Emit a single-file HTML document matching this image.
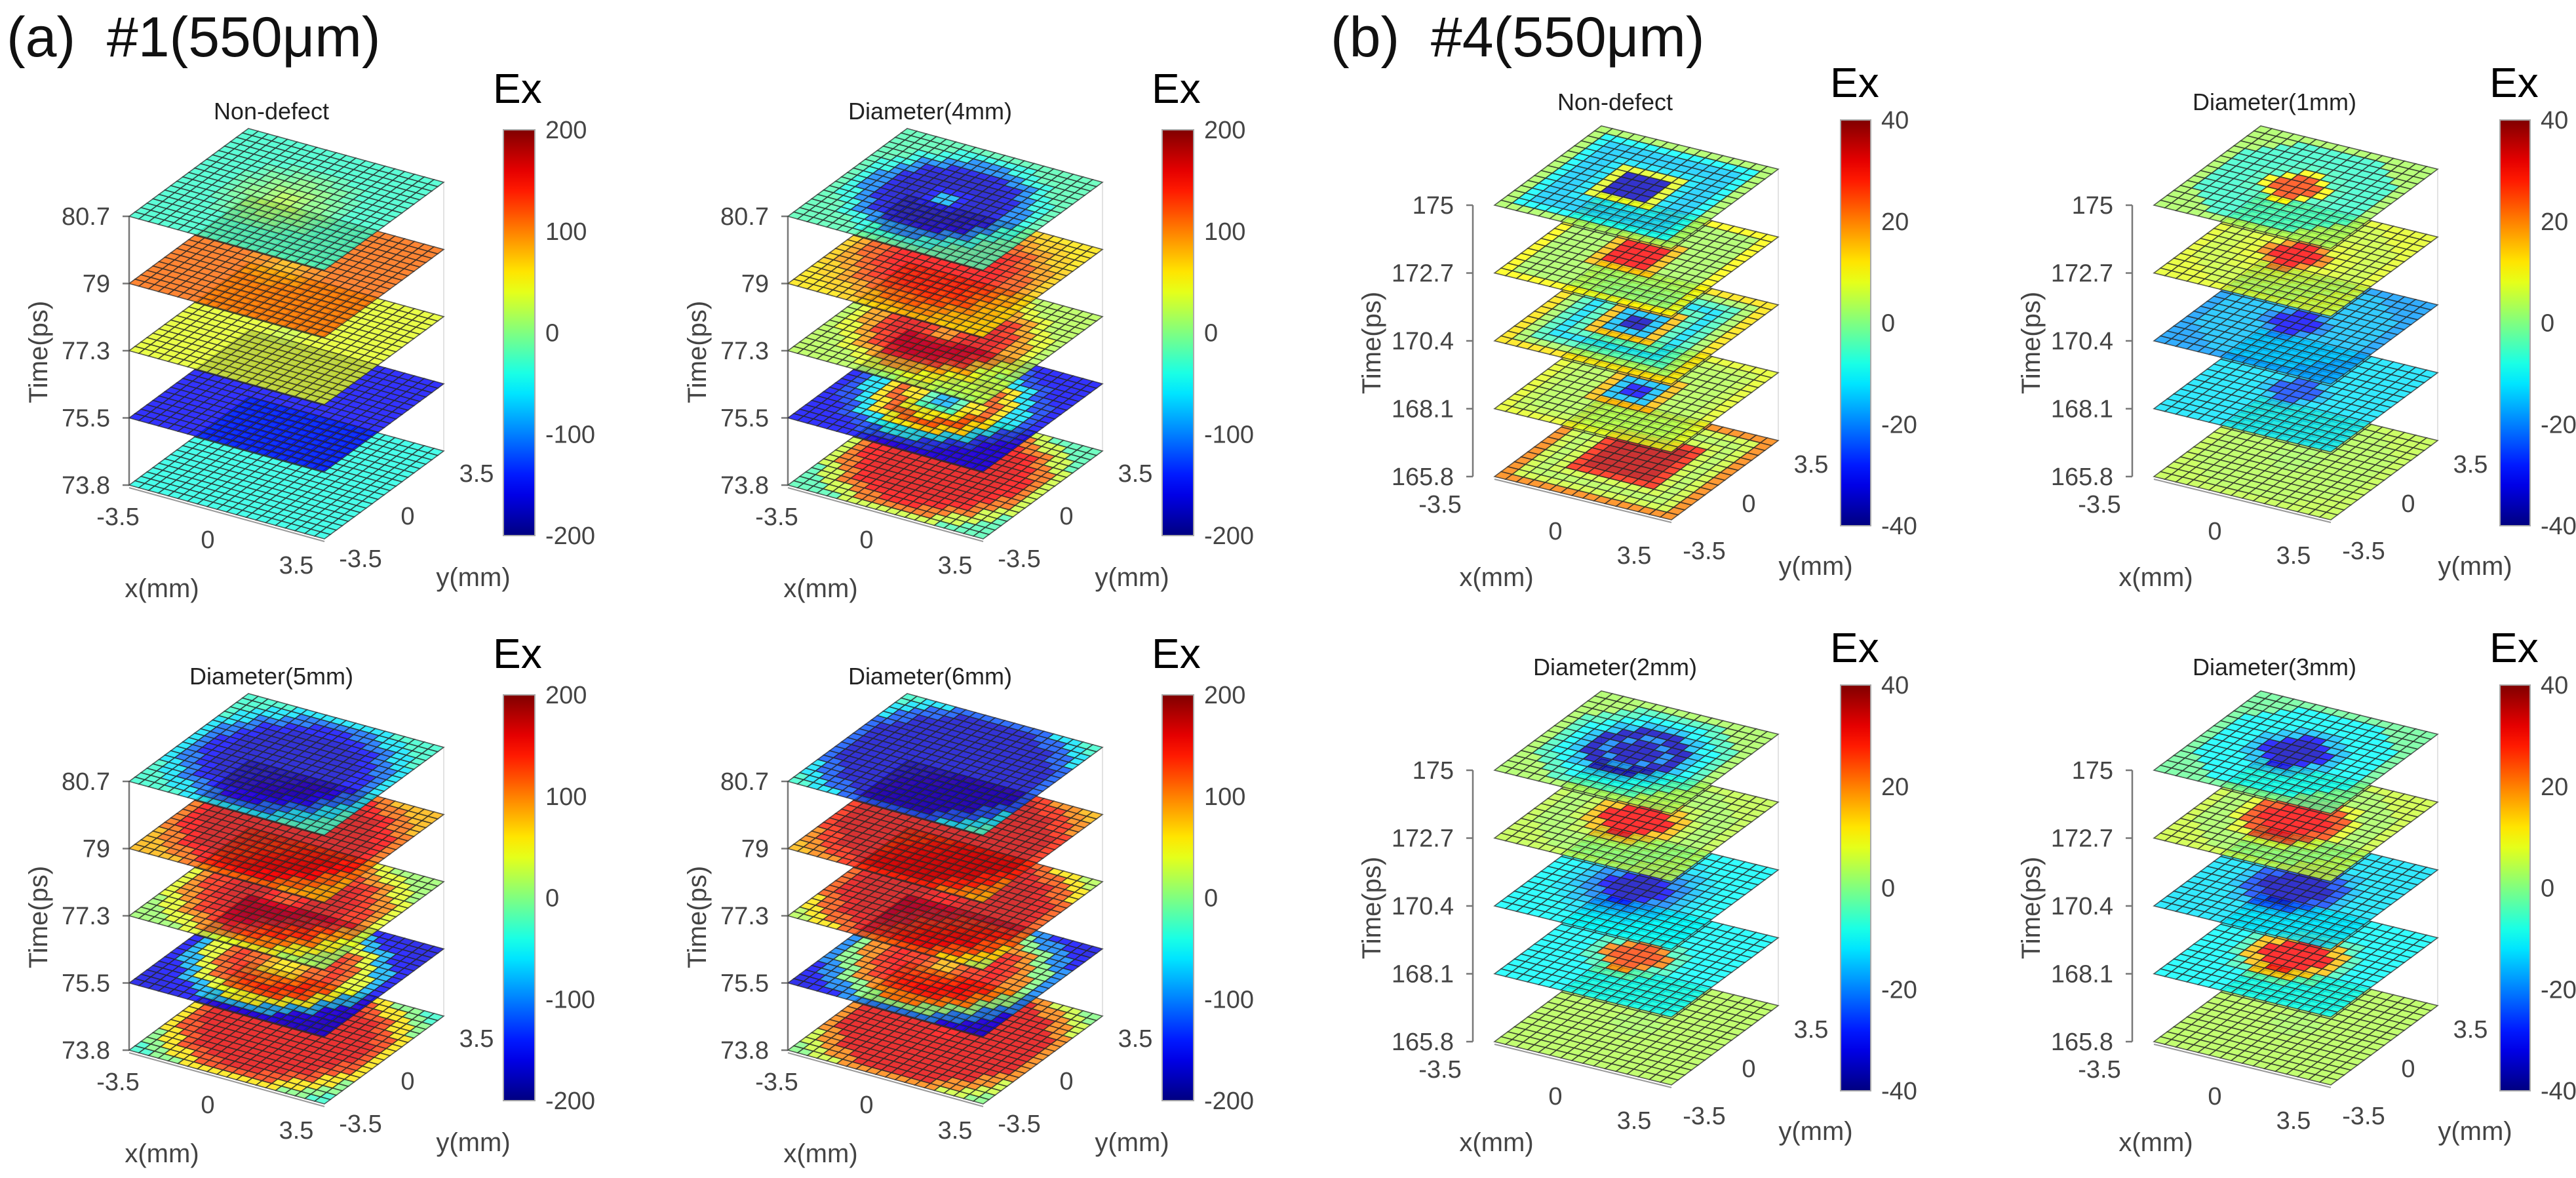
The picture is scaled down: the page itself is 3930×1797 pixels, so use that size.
<!DOCTYPE html>
<html><head><meta charset="utf-8">
<style>
html,body{margin:0;padding:0;background:#fff;}
svg{display:block;font-family:"Liberation Sans",Arial,sans-serif;}
</style></head>
<body>
<svg id="fig" width="3930" height="1797" viewBox="0 0 3930 1797" xmlns="http://www.w3.org/2000/svg">
<text x="10" y="86" font-size="86" fill="#111">(a)&#160;&#160;#1(550μm)</text>
<text x="2030" y="86" font-size="86" fill="#111">(b)&#160;&#160;#4(550μm)</text>
<g id="plots"></g>
</svg>
<script>
// ---------- data ----------
const timesA = ["80.7","79","77.3","75.5","73.8"];
const timesB = ["175","172.7","170.4","168.1","165.8"];
const cbTicksA = ["200","100","0","-100","-200"];
const cbTicksB = ["40","20","0","-20","-40"];
const xTicks = ["-3.5","0","3.5"];
const yTicks = ["-3.5","0","3.5"];
const titles = ["Non-defect","Diameter(4mm)","Diameter(5mm)","Diameter(6mm)","Non-defect","Diameter(1mm)","Diameter(2mm)","Diameter(3mm)"];
// radial profiles (value at r = 0,0.5,1,...) for slices top -> bottom
const profA_non = [
 [20,10,0,-10,-20,-30,-30,-30,-30,-30,-30],
 [80,90,100,110,110,110,110,110,110,110,110],
 [30,35,40,40,40,40,40,40,40,40,40],
 [-150,-150,-150,-150,-150,-150,-150,-150,-150,-150,-150],
 [-40,-40,-40,-40,-40,-40,-40,-40,-40,-40,-40]];
const profA_d4 = [
 [-80,-150,-170,-170,-160,-100,-40,-20,-20,-20,-20],
 [150,150,150,150,140,120,90,70,60,60,60],
 [100,140,160,160,140,90,40,20,20,20,20],
 [-80,-20,60,120,60,-60,-130,-150,-150,-150,-150],
 [160,160,160,160,160,150,110,30,-20,-20,-20]];
const profA_d5 = [
 [-170,-170,-170,-170,-170,-150,-110,-60,-30,-30,-30],
 [170,170,170,170,170,170,150,110,80,80,80],
 [130,150,170,170,160,140,100,40,10,10,10],
 [60,80,120,140,120,40,-80,-150,-160,-160,-160],
 [160,160,160,160,160,160,130,60,0,-30,-30]];
const profA_d6 = [
 [-170,-170,-170,-170,-170,-170,-170,-120,-60,-30,-30],
 [170,170,170,170,170,170,170,140,100,80,80],
 [150,160,170,170,170,170,160,120,60,20,20],
 [80,120,140,150,140,100,0,-100,-150,-160,-160],
 [150,160,160,160,160,160,160,100,30,0,0]];
const profB_non = [
 [-35,-35,8,-12,-14,-14,-10,3],
 [30,30,15,3,3,3,3,10],
 [-35,-15,15,-5,-12,-5,3,12],
 [-30,-15,15,4,4,4,5,8],
 [35,35,35,28,6,4,6,20]];
const profB_d1 = [
 [20,25,10,-5,-6,-6,-6,3],
 [-20,30,20,8,7,6,6,8],
 [-35,-30,-20,-15,-15,-15,-15,-18],
 [-30,-25,-15,-12,-12,-12,-12,-12],
 [-25,3,4,4,4,4,4,5]];
const profB_d2 = [
 [15,-35,-20,-35,-15,-10,-5,3],
 [-25,30,30,15,5,3,3,5],
 [-35,-35,-30,-20,-15,-12,-10,-10],
 [-30,25,20,-5,-10,-10,-10,-10],
 [-10,3,4,4,4,4,4,4]];
const profB_d3 = [
 [-35,-35,-30,-15,-10,-10,-10,-2],
 [30,30,30,25,8,3,3,6],
 [-35,-35,-35,-25,-15,-12,-12,-12],
 [10,30,30,15,-5,-10,-10,-10],
 [-20,3,4,4,4,4,4,4]];

// ---------- layout ----------
const NS="http://www.w3.org/2000/svg";
const root=document.getElementById('plots');
function mk(tag,attrs,parent){const e=document.createElementNS(NS,tag);for(const k in attrs)e.setAttribute(k,attrs[k]);(parent||root).appendChild(e);return e;}
function jet(t){t=Math.max(0,Math.min(1,t));
 const r=Math.max(0,Math.min(1,1.5-Math.abs(4*t-3)));
 const g=Math.max(0,Math.min(1,1.5-Math.abs(4*t-2)));
 const b=Math.max(0,Math.min(1,1.5-Math.abs(4*t-1)));
 return `rgb(${Math.round(r*255)},${Math.round(g*255)},${Math.round(b*255)})`;}

const panelA={N:20,lo:-200,hi:200,step:102.5,Loff:0,FL:[298,82],YV:[182,-134],cbx:571,cbt:-132,cbb:487,cbw:48,exy:-173,tty:-148,timeX:-139,timeY:207,
 xt:[[-17,458],[120,493],[255,532]],xl:[50,567],yt:[[353,522],[425,457],[530,392]],yl:[525,550],times:timesA,cb:cbTicksA};
const panelB={N:16,lo:-40,hi:40,step:103.5,Loff:33,FL:[270,66],YV:[163,-121],cbx:561,cbt:-130,cbb:489,cbw:46,exy:-165,tty:-145,timeX:-155,timeY:210,
 xt:[[-50,456],[126,497],[246,534]],xl:[36,567],yt:[[353,527],[421,455],[516,395]],yl:[523,550],times:timesB,cb:cbTicksB};

const subplots=[
 {p:panelA,ax:197,ty:330,prof:profA_non,cheb:false},
 {p:panelA,ax:1202,ty:330,prof:profA_d4,cheb:false},
 {p:panelA,ax:197,ty:1192,prof:profA_d5,cheb:false},
 {p:panelA,ax:1202,ty:1192,prof:profA_d6,cheb:false},
 {p:panelB,ax:2247,ty:313,prof:profB_non,cheb:true},
 {p:panelB,ax:3253,ty:313,prof:profB_d1,cheb:false},
 {p:panelB,ax:2247,ty:1175,prof:profB_d2,cheb:false},
 {p:panelB,ax:3253,ty:1175,prof:profB_d3,cheb:false}];

subplots.forEach((sp,k)=>{
 const p=sp.p, ax=sp.ax, ty=sp.ty;
 const g=mk('g',{});
 
 
 const tt=mk('text',{x:ax+217,y:ty+p.tty,'font-size':36,'text-anchor':'middle',fill:'#222'},g);
 tt.textContent=titles[k];
 
 
 const botY=ty+4*p.step;
 const L0=[ax+p.Loff,botY];
 const R0=[L0[0]+p.FL[0]+p.YV[0],L0[1]+p.FL[1]+p.YV[1]];
 const B0=[L0[0]+p.YV[0],L0[1]+p.YV[1]];
 [[R0,'back-right-edge'],[B0,'back-edge']].forEach(([pt,nm])=>{
  const ln=mk('line',{x1:pt[0],y1:pt[1],x2:pt[0],y2:pt[1]-4*p.step,stroke:'#e2e2e2','stroke-width':2},g);
  
  
 });
 const za=mk('line',{x1:ax,y1:ty,x2:ax,y2:botY,stroke:'#777','stroke-width':2.5},g);
 
 
 p.times.forEach((lab,i)=>{
  const y=ty+i*p.step;
  const tk=mk('line',{x1:ax-10,y1:y,x2:ax,y2:y,stroke:'#777','stroke-width':2.5},g);
  
  
  const tx=mk('text',{x:ax-29,y:y+13,'font-size':38,'text-anchor':'end',fill:'#444'},g);
  tx.textContent=lab;
  
  
 });
 const tl=mk('text',{x:0,y:0,'font-size':40,'text-anchor':'middle',fill:'#444',transform:`translate(${ax+p.timeX+14},${ty+p.timeY}) rotate(-90)`},g);
 tl.textContent='Time(ps)';
 
 
 const xl=mk('line',{x1:L0[0],y1:L0[1]+4,x2:L0[0]+p.FL[0],y2:L0[1]+p.FL[1]+4,stroke:'#999','stroke-width':2},g);
 
 
 const N=p.N;
 for(let s=4;s>=0;s--){
  const prof=sp.prof[s];
  const L=[ax+p.Loff,ty+s*p.step];
  const sg=mk('g',{},g);
  
  
  const P=(x,y)=>{const a=(x+3.5)/7,b=(y+3.5)/7;return [L[0]+a*p.FL[0]+b*p.YV[0],L[1]+a*p.FL[1]+b*p.YV[1]];};
  for(let i=0;i<N;i++)for(let j=0;j<N;j++){
   const x0=-3.5+i*7/N,x1=x0+7/N,y0=-3.5+j*7/N,y1=y0+7/N;
   const cx=(x0+x1)/2,cy=(y0+y1)/2;
   const r=sp.cheb?Math.max(Math.abs(cx),Math.abs(cy)):Math.sqrt(cx*cx+cy*cy);
   const idx=Math.min(prof.length-1,Math.round(r/0.5));
   const v=prof[idx];
   const c=[P(x0,y0),P(x1,y0),P(x1,y1),P(x0,y1)];
   const q=mk('polygon',{points:c.map(a=>a[0].toFixed(1)+','+a[1].toFixed(1)).join(' '),fill:jet((v-p.lo)/(p.hi-p.lo)),'fill-opacity':0.8,stroke:'#2a2a2a','stroke-width':1.6,'stroke-opacity':0.75},sg);
   
   
  }
 }
 xTicks.forEach((lab,i)=>{
  const t=mk('text',{x:ax+p.xt[i][0],y:ty+p.xt[i][1]+13,'font-size':38,'text-anchor':'middle',fill:'#444'},g);
  t.textContent=lab;
  
  
 });
 yTicks.forEach((lab,i)=>{
  const t=mk('text',{x:ax+p.yt[i][0],y:ty+p.yt[i][1]+13,'font-size':38,'text-anchor':'middle',fill:'#444'},g);
  t.textContent=lab;
  
  
 });
 const xt=mk('text',{x:ax+p.xl[0],y:ty+p.xl[1]+14,'font-size':40,'text-anchor':'middle',fill:'#444'},g);
 xt.textContent='x(mm)';
 
 
 const yt=mk('text',{x:ax+p.yl[0],y:ty+p.yl[1]+14,'font-size':40,'text-anchor':'middle',fill:'#444'},g);
 yt.textContent='y(mm)';
 
 
 const cx=ax+p.cbx, ct=ty+p.cbt, cb=ty+p.cbb;
 const gid='grad'+k;
 const defs=mk('defs',{},g);
 const lg=mk('linearGradient',{id:gid,x1:0,y1:1,x2:0,y2:0},defs);
 for(let i=0;i<=20;i++){mk('stop',{offset:(i/20),'stop-color':jet(i/20)},lg);}
 const bar=mk('rect',{x:cx,y:ct,width:p.cbw,height:cb-ct,fill:`url(#${gid})`,stroke:'#aaa','stroke-width':2},g);
 
 
 p.cb.forEach((lab,i)=>{
  const y=ct+i*(cb-ct)/4;
  const t=mk('text',{x:cx+p.cbw+16,y:y+13,'font-size':38,fill:'#444'},g);
  t.textContent=lab;
  
  
 });
 const ex=mk('text',{x:cx-16,y:ty+p.exy,'font-size':64,fill:'#000'},g);
 ex.textContent='Ex';
 
 
});
</script>
</body></html>
